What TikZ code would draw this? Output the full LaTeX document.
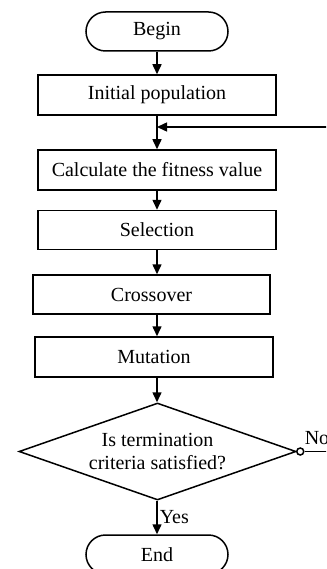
\documentclass[tikz,border=0pt]{standalone}
\usepackage{fontspec}
\setmainfont{Liberation Serif}
\usetikzlibrary{shapes.geometric,arrows.meta}
\begin{document}
\begin{tikzpicture}[x=1pt,y=-1pt,
  font=\fontsize{20}{23}\selectfont,
  every node/.style={line width=1.5pt},
  procbox/.style={draw, rectangle, minimum width=238pt, minimum height=40pt, inner sep=0pt},
  termbox/.style={draw, rectangle, rounded corners=19.5pt, minimum width=142pt, minimum height=39pt, inner sep=0pt},
  decbox/.style={draw, diamond, aspect=2.86, minimum width=277pt, minimum height=97pt, inner sep=0pt, align=center},
  flow/.style={line width=1.5pt, -{Triangle[length=10pt,width=9pt]}},
  plain/.style={line width=1.5pt}]
\useasboundingbox (0,0) rectangle (326,569);
\clip (0,0) rectangle (326,569);
\node[termbox] (begin) at (157,31.5) {Begin};
\node[procbox] (init) at (157,95) {Initial population};
\node[procbox] (calc) at (157,170) {Calculate the fitness value};
\node[procbox, minimum height=39pt] (sel) at (157,230) {Selection};
\node[procbox, minimum width=237pt, minimum height=39pt] (cross) at (151.5,294.5) {Crossover};
\node[procbox] (mut) at (154,357) {Mutation};
\node[decbox] (dec) at (157.5,451.5) {Is termination\\criteria satisfied?};
\node[termbox] (end) at (157,554.5) {End};
\coordinate (loopR) at (330,127);
\coordinate (loopJ) at (157,127);
\coordinate (noR) at (330,451.5);
\draw[flow] (begin.south) -- (init.north);
\draw[flow] (init.south) -- (init.south |- calc.north);
\draw[flow] (loopR) -- (loopJ);
\draw[flow] (calc.south) -- (sel.north);
\draw[flow] (sel.south) -- (sel.south |- cross.north);
\draw[flow] (cross.south -| sel.south) -- (sel.south |- mut.north);
\draw[flow] (mut.south -| sel.south) -- (dec.north -| sel.south);
\draw[flow] (dec.south -| sel.south) -- node[right, inner sep=2pt] (yes) {Yes} (end.north -| sel.south);
\node[draw, circle, fill=white, inner sep=0pt, minimum size=7pt] (nocirc) at ([xshift=3.5pt]dec.east) {};
\draw[plain] (nocirc.east) -- (noR);
\node[anchor=south west, inner sep=0pt] (notext) at (304,445) {No};
\end{tikzpicture}
\end{document}
